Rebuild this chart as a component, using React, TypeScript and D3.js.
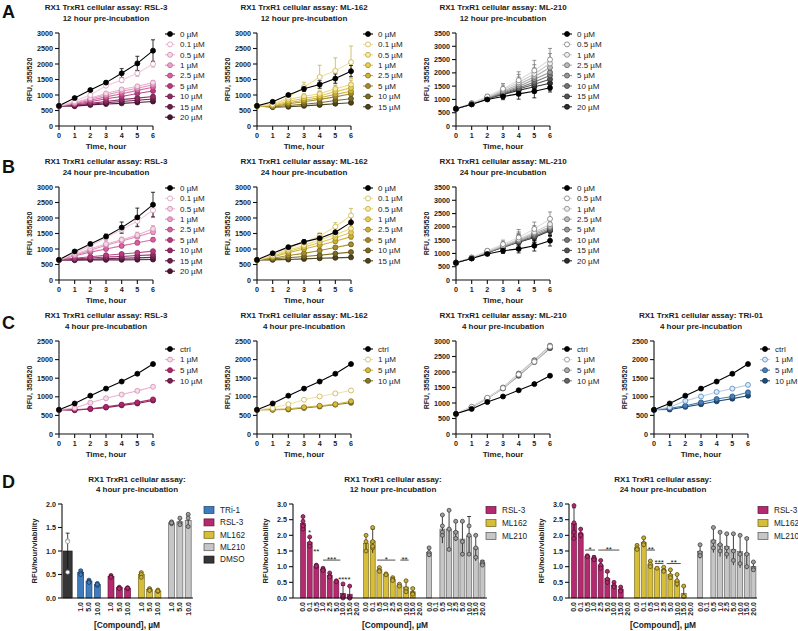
import React from 'react';
import * as d3 from 'd3';

const FONT = "'Liberation Sans', Arial, Helvetica, sans-serif";
const TIME = [0, 1, 2, 3, 4, 5, 6];

const RSL3_DOSES = ['0 µM', '0.1 µM', '0.5 µM', '1 µM', '2.5 µM', '5 µM', '10 µM', '15 µM', '20 µM'];
const ML162_DOSES = ['0 µM', '0.1 µM', '0.5 µM', '1 µM', '2.5 µM', '5 µM', '10 µM', '15 µM'];
const ML210_DOSES = ['0 µM', '0.5 µM', '1 µM', '2.5 µM', '5 µM', '10 µM', '15 µM', '20 µM'];
const C_DOSES = ['ctrl', '1 µM', '5 µM', '10 µM'];

// ---- Row A: 12 hour pre-incubation ----
const A_RSL3_MEAN = [
  [650, 900, 1160, 1400, 1700, 2020, 2430],
  [650, 800, 1000, 1300, 1480, 1700, 2000],
  [650, 760, 900, 1050, 1180, 1280, 1400],
  [650, 740, 870, 1000, 1120, 1220, 1330],
  [650, 720, 830, 940, 1040, 1150, 1250],
  [650, 700, 780, 880, 950, 1050, 1130],
  [650, 680, 730, 790, 850, 900, 950],
  [650, 660, 700, 750, 790, 830, 870],
  [650, 640, 680, 710, 730, 760, 790],
];
const A_RSL3_ERR = [
  [0, 30, 40, 50, 150, 230, 350],
  [0, 20, 40, 60, 80, 100, 100],
  [0, 20, 30, 30, 40, 50, 60],
  [0, 15, 25, 30, 35, 40, 50],
  [0, 15, 20, 25, 30, 35, 40],
  [0, 10, 20, 20, 25, 30, 35],
  [0, 10, 15, 20, 20, 25, 30],
  [0, 10, 15, 15, 20, 20, 25],
  [0, 10, 10, 15, 15, 20, 20],
];
const A_ML162_MEAN = [
  [650, 780, 1000, 1200, 1340, 1530, 1770],
  [650, 700, 920, 1260, 1580, 1780, 2060],
  [650, 690, 860, 960, 1040, 1200, 1340],
  [650, 670, 800, 890, 970, 1110, 1230],
  [650, 650, 750, 830, 910, 1020, 1120],
  [650, 630, 720, 780, 860, 940, 1040],
  [650, 620, 660, 700, 750, 820, 880],
  [650, 610, 620, 650, 680, 720, 750],
];
const A_ML162_ERR = [
  [0, 30, 50, 80, 120, 150, 180],
  [0, 40, 80, 150, 380, 420, 520],
  [0, 30, 50, 70, 90, 110, 140],
  [0, 20, 40, 50, 70, 90, 110],
  [0, 20, 30, 40, 50, 60, 80],
  [0, 20, 30, 40, 40, 50, 60],
  [0, 15, 20, 30, 30, 40, 50],
  [0, 15, 20, 20, 30, 30, 40],
];
const A_ML210_MEAN = [
  [650, 820, 1000, 1110, 1210, 1310, 1440],
  [650, 860, 1110, 1400, 1720, 2090, 2500],
  [650, 850, 1090, 1360, 1640, 1960, 2350],
  [650, 840, 1070, 1310, 1560, 1850, 2200],
  [650, 830, 1060, 1270, 1490, 1760, 2020],
  [650, 825, 1045, 1240, 1430, 1660, 1900],
  [650, 820, 1035, 1210, 1390, 1570, 1760],
  [650, 815, 1025, 1190, 1340, 1480, 1610],
];
const A_ML210_ERR = [
  [0, 40, 60, 120, 200, 250, 160],
  [0, 40, 80, 200, 320, 380, 420],
  [0, 40, 80, 180, 300, 350, 380],
  [0, 40, 70, 160, 280, 330, 350],
  [0, 40, 70, 150, 260, 300, 330],
  [0, 40, 60, 140, 240, 280, 300],
  [0, 40, 60, 130, 220, 260, 280],
  [0, 40, 60, 120, 200, 240, 260],
];

// ---- Row B: 24 hour pre-incubation ----
const B_RSL3_MEAN = [
  [650, 920, 1160, 1400, 1690, 2020, 2430],
  [650, 870, 1100, 1360, 1620, 1900, 2250],
  [650, 820, 1010, 1160, 1300, 1450, 1650],
  [650, 800, 960, 1120, 1260, 1400, 1550],
  [650, 780, 900, 1000, 1100, 1200, 1300],
  [650, 700, 750, 800, 840, 880, 930],
  [650, 680, 710, 740, 760, 790, 810],
  [650, 660, 670, 690, 700, 715, 730],
  [650, 640, 650, 650, 650, 655, 660],
];
const B_RSL3_ERR = [
  [0, 40, 60, 80, 180, 300, 400],
  [0, 40, 60, 80, 100, 150, 200],
  [0, 30, 40, 60, 80, 90, 100],
  [0, 25, 35, 50, 60, 70, 80],
  [0, 20, 30, 40, 50, 60, 60],
  [0, 15, 20, 25, 30, 40, 40],
  [0, 15, 20, 20, 25, 30, 35],
  [0, 10, 15, 20, 20, 25, 30],
  [0, 10, 15, 15, 20, 20, 25],
];
const B_ML162_MEAN = [
  [650, 860, 1060, 1230, 1350, 1540, 1860],
  [650, 800, 1010, 1210, 1420, 1720, 2080],
  [650, 780, 960, 1110, 1300, 1460, 1660],
  [650, 760, 920, 1060, 1210, 1360, 1530],
  [650, 740, 880, 1000, 1120, 1250, 1400],
  [650, 700, 790, 860, 950, 1050, 1150],
  [650, 680, 720, 760, 800, 850, 900],
  [650, 650, 660, 680, 700, 715, 730],
];
const B_ML162_ERR = [
  [0, 30, 50, 60, 150, 180, 200],
  [0, 30, 50, 80, 100, 130, 230],
  [0, 30, 40, 60, 80, 100, 120],
  [0, 25, 35, 50, 60, 80, 100],
  [0, 20, 30, 40, 50, 60, 80],
  [0, 15, 25, 30, 40, 50, 60],
  [0, 15, 20, 25, 30, 35, 40],
  [0, 10, 15, 20, 20, 25, 30],
];
const B_ML210_MEAN = [
  [650, 810, 980, 1100, 1170, 1290, 1480],
  [650, 850, 1100, 1350, 1600, 1920, 2300],
  [650, 840, 1080, 1300, 1530, 1800, 2100],
  [650, 830, 1060, 1280, 1500, 1750, 2000],
  [650, 830, 1050, 1260, 1470, 1700, 1950],
  [650, 820, 1040, 1250, 1450, 1650, 1900],
  [650, 820, 1030, 1240, 1430, 1620, 1870],
  [650, 820, 1030, 1230, 1420, 1600, 1850],
];
const B_ML210_ERR = [
  [0, 40, 60, 100, 150, 200, 200],
  [0, 40, 70, 150, 300, 260, 260],
  [0, 40, 70, 140, 280, 250, 250],
  [0, 40, 60, 130, 260, 240, 240],
  [0, 40, 60, 120, 250, 230, 230],
  [0, 40, 60, 120, 240, 220, 220],
  [0, 40, 60, 110, 230, 210, 210],
  [0, 40, 60, 110, 220, 200, 200],
];

// ---- Row C: 4 hour pre-incubation ----
const C_RSL3_MEAN = [
  [650, 820, 1030, 1220, 1410, 1620, 1880],
  [650, 700, 840, 960, 1060, 1160, 1270],
  [650, 650, 680, 730, 790, 850, 930],
  [650, 640, 670, 710, 770, 820, 900],
];
const C_ML162_MEAN = [
  [650, 820, 1030, 1220, 1410, 1620, 1880],
  [650, 700, 800, 920, 1010, 1090, 1170],
  [650, 660, 680, 720, 760, 800, 880],
  [650, 650, 660, 700, 740, 790, 840],
];
const C_ML210_MEAN = [
  [650, 810, 1030, 1210, 1410, 1610, 1880],
  [650, 880, 1170, 1480, 1920, 2330, 2820],
  [650, 870, 1160, 1500, 1950, 2380, 2850],
  [650, 860, 1150, 1470, 1880, 2320, 2770],
];
const C_TRI01_MEAN = [
  [650, 820, 1030, 1220, 1410, 1620, 1880],
  [650, 720, 890, 1010, 1130, 1220, 1320],
  [650, 690, 760, 850, 940, 1010, 1120],
  [650, 660, 730, 800, 880, 950, 1030],
];
const C_ERR = [
  [0, 20, 20, 25, 25, 30, 40],
  [0, 15, 20, 30, 30, 30, 30],
  [0, 15, 15, 20, 20, 25, 30],
  [0, 15, 15, 20, 20, 25, 30],
];

// ---- Row D: bar charts ----
const D_DOSES = ['0.0', '0.1', '0.5', '1.0', '2.5', '5.0', '10.0', '15.0', '20.0'];
const D4_DOSES = ['1.0', '5.0', '10.0'];
const D4_GROUPS = ['TRi-1', 'RSL-3', 'ML162', 'ML210'];
const D4_MEAN = [
  [0.55, 0.36, 0.29],
  [0.46, 0.22, 0.21],
  [0.5, 0.18, 0.15],
  [1.6, 1.62, 1.65],
];
const D4_SD = [
  [0.05, 0.03, 0.03],
  [0.03, 0.02, 0.02],
  [0.05, 0.03, 0.02],
  [0.03, 0.07, 0.12],
];
const D4_PTS = [
  [[0.58, 0.53, 0.5], [0.38, 0.35, 0.33], [0.31, 0.27, 0.29]],
  [[0.48, 0.45, 0.44], [0.23, 0.21, 0.2], [0.22, 0.2, 0.21]],
  [[0.54, 0.5, 0.44], [0.2, 0.17, 0.16], [0.17, 0.14, 0.15]],
  [[1.62, 1.58, 1.6], [1.7, 1.6, 1.56], [1.78, 1.7, 1.52]],
];
const D4_DMSO_MEAN = 1.0;
const D4_DMSO_SD = 0.38;
const D4_DMSO_PTS = [1.22, 1.2, 0.55];

const D12_GROUPS = ['RSL-3', 'ML162', 'ML210'];
const D12_MEAN = [
  [2.38, 1.78, 1.02, 0.92, 0.72, 0.53, 0.15, 0.12, null],
  [1.75, 1.82, 0.9, 0.75, 0.6, 0.4, 0.35, 0.2, null],
  [1.45, null, 2.2, 2.2, 2.12, 1.88, 1.98, 1.6, 1.12],
];
const D12_SD = [
  [0.22, 0.15, 0.04, 0.05, 0.07, 0.03, 0.25, 0.25, 0],
  [0.25, 0.38, 0.07, 0.03, 0.05, 0.05, 0.2, 0.12, 0],
  [0.14, 0, 0.45, 0.6, 0.3, 0.55, 0.62, 0.42, 0.08],
];
const D12_PTS = [
  [[2.6, 2.45, 2.2, 2.3], [1.95, 1.75, 1.65], [1.05, 1.0, 1.02], [0.95, 0.9, 0.88], [0.8, 0.7, 0.67], [0.55, 0.52], [0.45, 0.05, 0.0], [0.38, 0.0, 0.0], []],
  [[2.0, 1.8, 1.5], [2.25, 1.8, 1.6, 1.65], [0.97, 0.88, 0.85], [0.77, 0.74], [0.65, 0.6, 0.56], [0.44, 0.38], [0.55, 0.3, 0.2], [0.3, 0.15, 0.12], []],
  [[1.6, 1.45, 1.38], [], [2.65, 2.1, 2.0, 2.3], [2.8, 2.2, 1.55], [2.45, 2.1, 1.9], [2.45, 1.8, 1.4], [2.3, 2.0, 1.4], [2.0, 1.6, 1.3], [1.15, 1.1, 1.05]],
];
const D12_SIG: [string, number, number, number][] = [
  ['*', 1, 1, 2.17],
  ['**', 2, 2, 1.56],
  ['***', 3, 5.6, 1.21],
  ['****', 6.2, 6.2, 0.65],
  ['*', 11.1, 13.85, 1.21],
  ['**', 14.6, 15.85, 1.21],
];

const D24_MEAN = [
  [2.38, 2.05, 1.33, 1.27, 1.05, 0.62, 0.4, 0.28, null],
  [1.6, 1.77, 1.08, 0.95, 0.9, 0.75, 0.55, 0.15, null],
  [1.48, null, 1.85, 1.72, 1.65, 1.55, 1.48, 1.42, 1.0],
];
const D24_SD = [
  [0.5, 0.15, 0.03, 0.07, 0.15, 0.2, 0.1, 0.08, 0],
  [0.1, 0.15, 0.1, 0.03, 0.08, 0.15, 0.2, 0.22, 0],
  [0.22, 0, 0.4, 0.4, 0.4, 0.5, 0.52, 0.5, 0.15],
];
const D24_PTS = [
  [[2.95, 2.4, 2.1, 1.9], [2.2, 2.05, 2.0], [1.35, 1.32], [1.3, 1.25, 1.22], [1.2, 1.05, 0.95], [0.85, 0.6, 0.5], [0.5, 0.4, 0.35], [0.35, 0.25, 0.22], []],
  [[1.68, 1.6, 1.55], [1.92, 1.75, 1.7], [1.18, 1.08, 1.0], [0.95], [0.98, 0.88, 0.85], [0.9, 0.72, 0.65], [0.75, 0.55, 0.45], [0.38, 0.05], []],
  [[1.7, 1.45, 1.35], [], [2.25, 1.8, 1.6], [2.1, 1.7, 1.5], [2.05, 1.6, 1.4], [2.05, 1.5, 1.2], [2.0, 1.4, 1.1], [1.9, 1.4, 1.0], [1.15, 0.95, 0.9]],
];
const D24_SIG: [string, number, number, number][] = [
  ['*', 1.65, 3.15, 1.53],
  ['**', 3.65, 6.8, 1.53],
  ['**', 10.9, 12.15, 1.53],
  ['***', 12.15, 13.4, 1.1],
  ['**', 13.9, 16.0, 1.1],
];

// ---- styles ----
type St = { stroke: string; fill: string; line: string };
const st = (stroke: string, fill: string, line: string): St => ({ stroke, fill, line });
const BLACK = st('#000', '#000', '#000');
const RSL3_STY = [
  BLACK,
  st('#d79bbb', '#ffffff', '#f3cde0'),
  st('#d089ad', '#f6d9e8', '#ecb2cf'),
  st('#c46c9b', '#eba1c7', '#e392bb'),
  st('#a3427a', '#d8609f', '#d56ca3'),
  st('#862c60', '#b83a7e', '#bb4a88'),
  st('#6a1e4a', '#8f2a62', '#93326a'),
  st('#521737', '#6b2049', '#6e2450'),
  st('#3a0f27', '#4a1533', '#4d1838'),
];
const ML162_STY = [
  BLACK,
  st('#c9b24a', '#ffffff', '#f0e3a0'),
  st('#bfa63a', '#f5eaa8', '#ecd97a'),
  st('#a88f25', '#e8cf52', '#e2c955'),
  st('#8e7820', '#cdb036', '#ccb03a'),
  st('#6e5e1c', '#a38d2c', '#a68f30'),
  st('#4f4416', '#7a6a24', '#7d6d28'),
  st('#2f2a12', '#4d4418', '#4f461c'),
];
const ML210_STY = [
  BLACK,
  st('#7a7a7a', '#ffffff', '#dddddd'),
  st('#808080', '#eeeeee', '#cccccc'),
  st('#6a6a6a', '#bbbbbb', '#b0b0b0'),
  st('#505050', '#999999', '#999999'),
  st('#404040', '#777777', '#777777'),
  st('#2a2a2a', '#555555', '#555555'),
  st('#111111', '#2e2e2e', '#333333'),
];
const C_RSL3_STY = [BLACK, st('#d28fb3', '#f8dcea', '#eeb0cf'), st('#7a1f50', '#b5216e', '#b5306f'), st('#4d1233', '#7d1f52', '#7d1f52')];
const C_ML162_STY = [BLACK, st('#c9b24a', '#ffffff', '#efe2a4'), st('#8a7420', '#d8bc3c', '#d0b43c'), st('#4d4418', '#8a7a28', '#8a7a28')];
const C_ML210_STY = [BLACK, st('#888888', '#ffffff', '#dddddd'), st('#555555', '#aaaaaa', '#bbbbbb'), st('#333333', '#666666', '#888888')];
const C_TRI_STY = [BLACK, st('#5b8cc0', '#dde9f5', '#b9d0e8'), st('#22507f', '#4a7fb5', '#4a7fb5'), st('#112f4e', '#1f4e79', '#1f4e79')];

const BAR_COL: Record<string, { fill: string; stroke: string; dot: string; dotStroke: string }> = {
  'TRi-1': { fill: '#3f7cbf', stroke: '#1b3f66', dot: '#3f7cbf', dotStroke: '#15304f' },
  'RSL-3': { fill: '#b52a6f', stroke: '#5c1237', dot: '#b52a6f', dotStroke: '#4a0f2d' },
  ML162: { fill: '#d6bd3a', stroke: '#6e5f16', dot: '#c9b035', dotStroke: '#4d4210' },
  ML210: { fill: '#c6c6c6', stroke: '#555555', dot: '#a0a0a0', dotStroke: '#333333' },
  DMSO: { fill: '#363636', stroke: '#111111', dot: '#ffffff', dotStroke: '#888888' },
};

// ---- layout ----
const PW = 94;
const PH = 93;
const COLS = [59, 257, 456, 654];
const ROWS = [33, 187, 341];

function LinePanel(p: any) {
  const { x0, top, yMax, title, subtitle, labels, mean, err, styles, legendDy, legendStep } = p;
  const x = d3.scaleLinear().domain([0, 6]).range([x0, x0 + PW]);
  const y = d3.scaleLinear().domain([0, yMax]).range([top + PH, top]);
  const yTicks = d3.range(0, yMax + 1, 500);
  const line = d3.line<number>().x((_, i) => x(TIME[i])).y((d) => y(d));
  const order = d3.range(mean.length).reverse();
  const cx = x0 + PW / 2;
  return (
    <g fontFamily={FONT}>
      <text x={cx} y={top - 23} textAnchor="middle" fontSize={8} fontWeight="bold" fill="#222">{title}</text>
      <text x={cx} y={top - 12} textAnchor="middle" fontSize={8} fontWeight="bold" fill="#222">{subtitle}</text>
      {order.map((i) => (
        <path key={'l' + i} d={line(mean[i]) || ''} fill="none" stroke={styles[i].line} strokeWidth={1.1} />
      ))}
      {order.map((i) => (
        <g key={'e' + i} stroke={styles[i].stroke} strokeWidth={0.8}>
          {mean[i].map((v: number, j: number) => {
            const e = err[i][j];
            if (!e) return null;
            const xx = x(TIME[j]);
            return (
              <g key={j}>
                <line x1={xx} x2={xx} y1={y(v - e)} y2={y(v + e)} />
                <line x1={xx - 2} x2={xx + 2} y1={y(v + e)} y2={y(v + e)} />
                <line x1={xx - 2} x2={xx + 2} y1={y(v - e)} y2={y(v - e)} />
              </g>
            );
          })}
        </g>
      ))}
      {order.map((i) => (
        <g key={'m' + i}>
          {mean[i].map((v: number, j: number) => (
            <circle key={j} cx={x(TIME[j])} cy={y(v)} r={2.5} fill={styles[i].fill} stroke={styles[i].stroke} strokeWidth={0.8} />
          ))}
        </g>
      ))}
      <g stroke="#111" strokeWidth={1.1} fill="none">
        <line x1={x0} x2={x0} y1={top} y2={top + PH} />
        <line x1={x0} x2={x0 + PW} y1={top + PH} y2={top + PH} />
        {yTicks.map((t: number) => (
          <line key={'yt' + t} x1={x0 - 4} x2={x0} y1={y(t)} y2={y(t)} />
        ))}
        {TIME.map((t) => (
          <line key={'xt' + t} x1={x(t)} x2={x(t)} y1={top + PH} y2={top + PH + 4} />
        ))}
      </g>
      {yTicks.map((t: number) => (
        <text key={'ytl' + t} x={x0 - 6} y={y(t)} dy="0.35em" textAnchor="end" fontSize={7.2} fontWeight="bold" fill="#222">{t}</text>
      ))}
      {TIME.map((t) => (
        <text key={'xtl' + t} x={x(t)} y={top + PH + 12} textAnchor="middle" fontSize={7.2} fontWeight="bold" fill="#222">{t}</text>
      ))}
      <text x={cx} y={top + PH + 23} textAnchor="middle" fontSize={8} fontWeight="bold" fill="#222">Time, hour</text>
      <text transform={`translate(${x0 - 27},${top + PH / 2}) rotate(-90)`} textAnchor="middle" fontSize={7} fontWeight="bold" fill="#222">RFU, 355/520</text>
      {labels.map((lab: string, i: number) => {
        const ly = top + legendDy + i * legendStep;
        return (
          <g key={'lg' + i}>
            <line x1={x0 + 106} x2={x0 + 116} y1={ly} y2={ly} stroke={styles[i].line} strokeWidth={1.1} />
            <circle cx={x0 + 111} cy={ly} r={2.5} fill={styles[i].fill} stroke={styles[i].stroke} strokeWidth={0.8} />
            <text x={x0 + 121} y={ly} dy="0.35em" fontSize={8} fill="#222">{lab}</text>
          </g>
        );
      })}
    </g>
  );
}

const D_TOP = 504;
const D_BOT = 598;

function BarPanel(p: any) {
  const { axisX, xEnd, yMax, title, titleX, bars, labels, sig, slot, legend, legendX, legendStep, xTitleX } = p;
  const y = d3.scaleLinear().domain([0, yMax]).range([D_BOT, D_TOP]);
  const ticks = d3.range(0, yMax + 0.001, 0.5);
  return (
    <g fontFamily={FONT}>
      <text x={titleX} y={482} textAnchor="middle" fontSize={8} fontWeight="bold" fill="#222">RX1 TrxR1 cellular assay:</text>
      <text x={titleX} y={492} textAnchor="middle" fontSize={8} fontWeight="bold" fill="#222">{title}</text>
      {bars.map((b: any, i: number) => {
        const xc = slot(b.pos);
        const c = BAR_COL[b.group];
        const w = b.width;
        return (
          <g key={'b' + i}>
            <rect x={xc - w / 2} y={y(b.mean)} width={w} height={D_BOT - y(b.mean)} fill={c.fill} stroke={c.stroke} strokeWidth={0.6} />
            {b.sd > 0 && (
              <g stroke="#111" strokeWidth={0.8}>
                <line x1={xc} x2={xc} y1={y(Math.max(0, b.mean - b.sd))} y2={y(b.mean + b.sd)} />
                <line x1={xc - 2} x2={xc + 2} y1={y(b.mean + b.sd)} y2={y(b.mean + b.sd)} />
              </g>
            )}
            {b.pts.map((v: number, k: number) => (
              <circle key={k} cx={xc} cy={y(v)} r={2} fill={c.dot} stroke={c.dotStroke} strokeWidth={0.7} />
            ))}
          </g>
        );
      })}
      {sig.map((s: any, i: number) => {
        const [txt, a, bb, v] = s;
        const hasLine = bb > a;
        const xm = slot((a + bb) / 2);
        return (
          <g key={'s' + i}>
            {hasLine && <line x1={slot(a)} x2={slot(bb)} y1={y(v)} y2={y(v)} stroke="#222" strokeWidth={0.8} />}
            <text x={xm} y={hasLine ? y(v) + 1.8 : y(v) + 4.5} textAnchor="middle" fontSize={8} fill="#222">{txt}</text>
          </g>
        );
      })}
      <g stroke="#111" strokeWidth={1.1}>
        <line x1={axisX} x2={axisX} y1={D_TOP} y2={D_BOT} />
        <line x1={axisX} x2={xEnd} y1={D_BOT} y2={D_BOT} />
        {ticks.map((t: number) => (
          <line key={'t' + t} x1={axisX - 4} x2={axisX} y1={y(t)} y2={y(t)} />
        ))}
      </g>
      {ticks.map((t: number) => (
        <text key={'tl' + t} x={axisX - 6} y={y(t)} dy="0.35em" textAnchor="end" fontSize={7.2} fontWeight="bold" fill="#222">{t.toFixed(1)}</text>
      ))}
      {labels.map((l: any, i: number) => (
        <text key={'xl' + i} transform={`translate(${slot(l.pos)},${D_BOT + 4}) rotate(-90)`} dy="0.35em" textAnchor="end" fontSize={7} fontWeight="bold" fill="#222">{l.text}</text>
      ))}
      <text transform={`translate(${axisX - 25},${(D_TOP + D_BOT) / 2}) rotate(-90)`} textAnchor="middle" fontSize={7.6} fontWeight="bold" fill="#222">RFU/hour/viability</text>
      <text x={xTitleX} y={628} textAnchor="middle" fontSize={8.4} fontWeight="bold" fill="#222">[Compound], µM</text>
      {legend.map((g: string, i: number) => {
        const ly = 510 + i * legendStep;
        const c = BAR_COL[g];
        return (
          <g key={'lg' + i}>
            <rect x={legendX} y={ly - 3.5} width={10} height={7} fill={c.fill} stroke={c.stroke} strokeWidth={0.7} />
            <text x={legendX + 16} y={ly} dy="0.35em" fontSize={8.2} fill="#222">{g}</text>
          </g>
        );
      })}
    </g>
  );
}

function buildBars(groups: string[], mean: any[], sd: any[], pts: any[], gStep: number, width: number) {
  const out: any[] = [];
  groups.forEach((g, gi) => {
    mean[gi].forEach((m: number | null, i: number) => {
      if (m === null) return;
      out.push({ group: g, pos: gi * gStep + i, mean: m, sd: sd[gi][i], pts: pts[gi][i], width });
    });
  });
  return out;
}
function buildLabels(groups: string[], doses: string[], gStep: number) {
  const out: any[] = [];
  groups.forEach((_, gi) => doses.forEach((d, i) => out.push({ pos: gi * gStep + i, text: d })));
  return out;
}

export default function App() {
  const d4Slot = d3.scaleLinear().domain([0, 1]).range([80.7, 89.0]);
  const d4Bars = [
    { group: 'DMSO', pos: -1.57, mean: D4_DMSO_MEAN, sd: D4_DMSO_SD, pts: D4_DMSO_PTS, width: 9 },
    ...buildBars(D4_GROUPS, D4_MEAN, D4_SD, D4_PTS, 3.65, 6),
  ];
  const d12Slot = d3.scaleLinear().domain([0, 1]).range([303, 309.67]);
  const d24Slot = d3.scaleLinear().domain([0, 1]).range([574, 580.67]);
  const GSTEP = 9.45;

  const letter = (t: string, yy: number) => (
    <text x={2} y={yy} fontFamily={FONT} fontSize={18} fontWeight="bold" fill="#111">{t}</text>
  );

  return (
    <svg width={798} height={631} style={{ position: 'absolute', left: 0, top: 0, background: '#fff' }}>
      <rect width={798} height={631} fill="#fff" />
      {letter('A', 18)}
      {letter('B', 173)}
      {letter('C', 329)}
      {letter('D', 488)}

      <LinePanel x0={COLS[0]} top={ROWS[0]} yMax={3000} title="RX1 TrxR1 cellular assay: RSL-3" subtitle="12 hour pre-incubation"
        labels={RSL3_DOSES} mean={A_RSL3_MEAN} err={A_RSL3_ERR} styles={RSL3_STY} legendDy={1} legendStep={10.4} />
      <LinePanel x0={COLS[1]} top={ROWS[0]} yMax={3000} title="RX1 TrxR1 cellular assay: ML-162" subtitle="12 hour pre-incubation"
        labels={ML162_DOSES} mean={A_ML162_MEAN} err={A_ML162_ERR} styles={ML162_STY} legendDy={1} legendStep={10.4} />
      <LinePanel x0={COLS[2]} top={ROWS[0]} yMax={3500} title="RX1 TrxR1 cellular assay: ML-210" subtitle="12 hour pre-incubation"
        labels={ML210_DOSES} mean={A_ML210_MEAN} err={A_ML210_ERR} styles={ML210_STY} legendDy={1} legendStep={10.4} />

      <LinePanel x0={COLS[0]} top={ROWS[1]} yMax={3000} title="RX1 TrxR1 cellular assay: RSL-3" subtitle="24 hour pre-incubation"
        labels={RSL3_DOSES} mean={B_RSL3_MEAN} err={B_RSL3_ERR} styles={RSL3_STY} legendDy={1} legendStep={10.4} />
      <LinePanel x0={COLS[1]} top={ROWS[1]} yMax={3000} title="RX1 TrxR1 cellular assay: ML-162" subtitle="24 hour pre-incubation"
        labels={ML162_DOSES} mean={B_ML162_MEAN} err={B_ML162_ERR} styles={ML162_STY} legendDy={1} legendStep={10.4} />
      <LinePanel x0={COLS[2]} top={ROWS[1]} yMax={3500} title="RX1 TrxR1 cellular assay: ML-210" subtitle="24 hour pre-incubation"
        labels={ML210_DOSES} mean={B_ML210_MEAN} err={B_ML210_ERR} styles={ML210_STY} legendDy={1} legendStep={10.4} />

      <LinePanel x0={COLS[0]} top={ROWS[2]} yMax={2500} title="RX1 TrxR1 cellular assay: RSL-3" subtitle="4 hour pre-incubation"
        labels={C_DOSES} mean={C_RSL3_MEAN} err={C_ERR} styles={C_RSL3_STY} legendDy={8} legendStep={10.6} />
      <LinePanel x0={COLS[1]} top={ROWS[2]} yMax={2500} title="RX1 TrxR1 cellular assay: ML-162" subtitle="4 hour pre-incubation"
        labels={C_DOSES} mean={C_ML162_MEAN} err={C_ERR} styles={C_ML162_STY} legendDy={8} legendStep={10.6} />
      <LinePanel x0={COLS[2]} top={ROWS[2]} yMax={3000} title="RX1 TrxR1 cellular assay: ML-210" subtitle="4 hour pre-incubation"
        labels={C_DOSES} mean={C_ML210_MEAN} err={C_ERR} styles={C_ML210_STY} legendDy={8} legendStep={10.6} />
      <LinePanel x0={COLS[3]} top={ROWS[2]} yMax={2500} title="RX1 TrxR1 cellular assay: TRi-01" subtitle="4 hour pre-incubation"
        labels={C_DOSES} mean={C_TRI01_MEAN} err={C_ERR} styles={C_TRI_STY} legendDy={8} legendStep={10.6} />

      <BarPanel axisX={62} xEnd={193} yMax={2.0} title="4 hour pre-incubation" titleX={137} slot={d4Slot}
        bars={d4Bars} labels={buildLabels(D4_GROUPS, D4_DOSES, 3.65)} sig={[]}
        legend={['TRi-1', 'RSL-3', 'ML162', 'ML210', 'DMSO']} legendX={204} legendStep={12.4} xTitleX={127} />
      <BarPanel axisX={293} xEnd={487} yMax={3.0} title="12 hour pre-incubation" titleX={393} slot={d12Slot}
        bars={buildBars(D12_GROUPS, D12_MEAN, D12_SD, D12_PTS, GSTEP, 5)} labels={buildLabels(D12_GROUPS, D_DOSES, GSTEP)} sig={D12_SIG}
        legend={['RSL-3', 'ML162', 'ML210']} legendX={486} legendStep={13} xTitleX={395} />
      <BarPanel axisX={569} xEnd={757} yMax={3.0} title="24 hour pre-incubation" titleX={663} slot={d24Slot}
        bars={buildBars(D12_GROUPS, D24_MEAN, D24_SD, D24_PTS, GSTEP, 5)} labels={buildLabels(D12_GROUPS, D_DOSES, GSTEP)} sig={D24_SIG}
        legend={['RSL-3', 'ML162', 'ML210']} legendX={758} legendStep={13} xTitleX={663} />
    </svg>
  );
}
